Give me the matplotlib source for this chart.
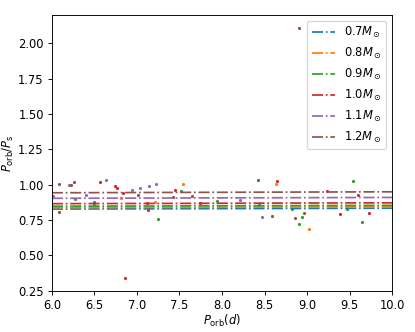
import matplotlib.pyplot as plt

masses = ["0.7", "0.8", "0.9", "1.0", "1.1", "1.2"]
colors = ["C0", "C1", "C2", "C3", "C4", "C5"]

# P_orb/P_s reference lines at P_orb = 6 and 10 days
line_x = [6.0, 10.0]
line_y = {
    "0.7": [0.828, 0.834],
    "0.8": [0.838, 0.844],
    "0.9": [0.848, 0.854],
    "1.0": [0.866, 0.872],
    "1.1": [0.904, 0.910],
    "1.2": [0.943, 0.950],
}

# observed points grouped by mass colour
p_orb = {
    "0.7": [6.49, 8.44],
    "0.8": [6.81, 7.215, 7.54, 8.635, 9.02],
    "0.9": [6.27, 6.49, 7.52, 7.25, 7.945, 8.82, 8.94, 8.905, 9.54, 9.47, 9.65],
    "1.0": [6.57, 6.745, 6.77, 6.84, 6.86, 7.45, 7.12, 7.74, 7.13, 8.65, 9.23, 9.60, 9.39, 9.73],
    "1.1": [6.016, 6.20, 6.40, 6.64, 6.94, 7.04, 7.145, 7.22, 8.21, 8.47],
    "1.2": [6.086, 6.22, 6.26, 6.08, 7.01, 7.42, 7.65, 8.42, 8.96, 8.59, 8.86, 8.90],
}
ratio = {
    "0.7": [0.879, 0.86],
    "0.8": [0.907, 0.881, 1.007, 1.007, 0.69],
    "0.9": [0.897, 0.858, 0.957, 0.756, 0.888, 0.827, 0.77, 0.723, 1.028, 0.827, 0.74],
    "1.0": [1.018, 0.988, 0.976, 0.943, 0.34, 0.96, 0.872, 0.872, 0.822, 1.023, 0.957, 0.929, 0.79, 0.798],
    "1.1": [0.92, 1.0, 0.93, 1.03, 0.96, 0.978, 0.99, 1.004, 0.895, 0.773],
    "1.2": [1.002, 1.0, 1.018, 0.808, 0.926, 0.915, 0.92, 1.03, 0.803, 0.78, 0.763, 2.108],
}

fig = plt.figure(figsize=(5, 4), dpi=83)
ax = fig.add_axes([0.125, 0.124, 0.82, 0.831])

for m, c in zip(masses, colors):
    ax.plot(line_x, line_y[m], '-.', color=c, label=r'$%s M_\odot$' % m)
for m, c in zip(masses, colors):
    ax.scatter(p_orb[m], ratio[m], s=3, color=c)

ax.set_xlim(6, 10)
ax.set_ylim(0.25, 2.2)
ax.set_yticks([0.25, 0.5, 0.75, 1.0, 1.25, 1.5, 1.75, 2.0])
ax.set_xlabel(r'$P_{\rm orb}(d)$', labelpad=1)
ax.set_ylabel(r'$P_{\rm orb}/P_{\rm s}$', labelpad=2)
ax.legend(loc='upper right')

fig.savefig("out.png", dpi=83)
